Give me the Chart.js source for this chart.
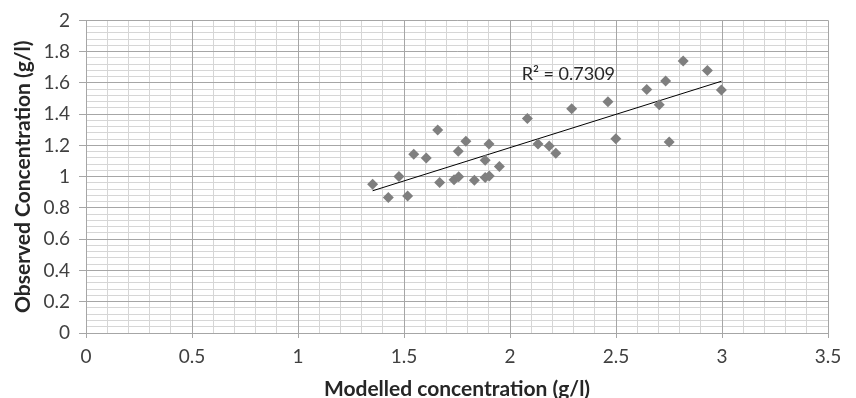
<!DOCTYPE html>
<html>
<head>
<meta charset="utf-8">
<script src="https://cdn.jsdelivr.net/npm/chart.js@4"></script>
<style>
  html, body { margin:0; padding:0; background:#fff; }
  #wrap { width:856px; height:398px; }
</style>
</head>
<body>
<div id="wrap"><canvas id="chart" width="856" height="398"></canvas></div>
<script>
// observed vs modelled concentrations
const modelled = [1.352,1.426,1.476,1.517,1.546,1.605,1.659,1.668,1.736,1.758,1.756,1.792,1.832,1.883,1.883,1.902,
                  1.901,1.950,2.082,2.132,2.185,2.216,2.291,2.462,2.499,2.645,2.704,2.734,2.751,2.817,2.931,2.997];
const observed = [0.952,0.867,1.001,0.876,1.144,1.120,1.299,0.963,0.980,0.999,1.163,1.227,0.978,1.106,0.995,1.004,
                  1.209,1.065,1.373,1.209,1.197,1.150,1.434,1.479,1.243,1.558,1.460,1.613,1.222,1.741,1.679,1.554];
const trendX = [1.352, 2.998];
const trendY = [0.91, 1.611];
const r2Label = 'R² = 0.7309';
const xTitle = 'Modelled concentration (g/l)';
const yTitle = 'Observed Concentration (g/l)';

const pts = modelled.map((x,i)=>({x:x, y:observed[i]}));
const trend = trendX.map((x,i)=>({x:x, y:trendY[i]}));
const fmt = v => String(+v.toFixed(2));

const r2Plugin = {
  id:'r2',
  afterDatasetsDraw(chart){
    const ctx = chart.ctx, xs = chart.scales.x, ys = chart.scales.y;
    ctx.save();
    ctx.font = '18px Lato';
    ctx.fillStyle = '#262626';
    ctx.textAlign = 'left';
    ctx.textBaseline = 'middle';
    ctx.fillText(r2Label, xs.getPixelForValue(2.055), ys.getPixelForValue(1.655));
    ctx.restore();
  }
};

new Chart(document.getElementById('chart').getContext('2d'), {
  type:'scatter',
  data:{ datasets:[
    { label:'obs', data:pts, pointStyle:'rectRot', pointRadius:5.5, pointHoverRadius:5.5,
      backgroundColor:'#7f7f7f', borderWidth:0 },
    { type:'line', label:'trend', data:trend, borderColor:'#000', borderWidth:1, pointRadius:0, fill:false }
  ]},
  options:{
    responsive:false, animation:false,
    layout:{ padding:{ top:19, right:28, left:0, bottom:0 } },
    plugins:{ legend:{display:false}, tooltip:{enabled:false} },
    scales:{
      xMinor:{ type:'linear', position:'bottom', min:0, max:3.5, z:-1,
        ticks:{ display:false, stepSize:0.1 },
        grid:{ color:'#d6d6d6', drawTicks:false }, border:{display:false} },
      yMinor:{ type:'linear', position:'left', min:0, max:2, z:-1,
        ticks:{ display:false, stepSize:0.04 },
        grid:{ color:'#d6d6d6', drawTicks:false }, border:{display:false} },
      x:{ type:'linear', position:'bottom', min:0, max:3.5,
        afterFit(s){ s.height = 65; },
        ticks:{ stepSize:0.5, color:'#404040', font:{family:'Lato', size:19}, padding:7, callback:fmt },
        grid:{ color:'#a6a6a6', tickLength:5 },
        border:{ color:'#a6a6a6' },
        title:{ display:true, text:xTitle, color:'#262626',
          font:{family:'Lato', size:21, weight:'bold', lineHeight:1}, padding:{top:0,bottom:-2} } },
      y:{ type:'linear', position:'left', min:0, max:2,
        afterFit(s){ s.width = 86; },
        ticks:{ stepSize:0.2, color:'#404040', font:{family:'Lato', size:19}, padding:9, callback:fmt },
        grid:{ color:'#a6a6a6', tickLength:7 },
        border:{ color:'#a6a6a6' },
        title:{ display:true, text:yTitle, color:'#262626',
          font:{family:'Lato', size:21, weight:'bold', lineHeight:1}, padding:{top:13,bottom:0} } }
    }
  },
  plugins:[r2Plugin]
});
</script>
</body>
</html>
